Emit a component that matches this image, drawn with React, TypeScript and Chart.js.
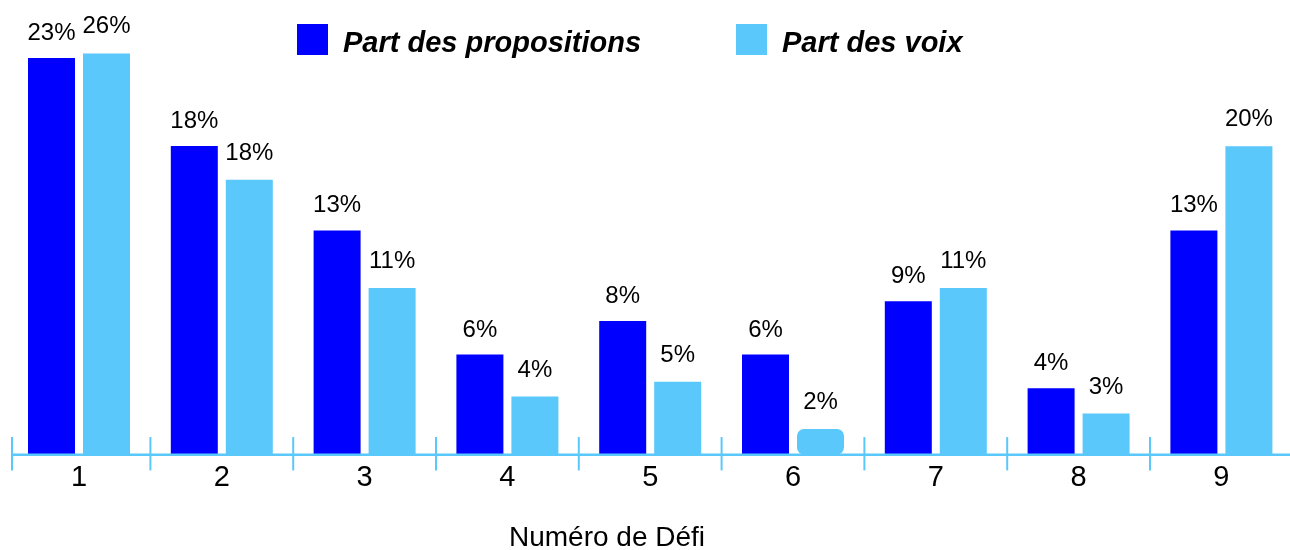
import React, { useEffect, useRef } from 'react';
import { Chart, registerables } from 'chart.js';

Chart.register(...registerables);

// ---- data ----
const categories = ['1', '2', '3', '4', '5', '6', '7', '8', '9'];
const propositions = [23.0, 17.9, 13.0, 5.8, 7.75, 5.8, 8.9, 3.85, 13.0];
const voix = [25.9, 17.75, 10.75, 3.75, 4.7, 1.65, 10.75, 2.65, 19.9];
const seriesNames = ['Part des propositions', 'Part des voix'];
const axisTitle = 'Numéro de Défi';

// ---- style ----
const DARK_BLUE = '#0000ff';
const LIGHT_BLUE = '#5ac8fa';
const FONT = "'Liberation Sans', Arial, Helvetica, sans-serif";
const CANVAS_W = 1300;
const CANVAS_H = 550;

const decorPlugin = {
  id: 'decor',
  afterDatasetsDraw(chart: any) {
    const ctx = chart.ctx as CanvasRenderingContext2D;
    const x = chart.scales.x;
    const area = chart.chartArea;
    const axisY = area.bottom + 0.2;
    ctx.save();

    // axis line
    const lineStart = x.left + 4.4;
    ctx.strokeStyle = LIGHT_BLUE;
    ctx.lineWidth = 2.6;
    ctx.beginPath();
    ctx.moveTo(lineStart, axisY);
    ctx.lineTo(x.right + 10, axisY);
    ctx.stroke();

    // tick marks at category boundaries
    const step = x.width / categories.length;
    const first = x.getPixelForValue(0) - step / 2;
    ctx.lineWidth = 2;
    for (let i = 0; i <= categories.length; i++) {
      const bx = Math.max(lineStart, first + i * step);
      ctx.beginPath();
      ctx.moveTo(bx, axisY - 17.7);
      ctx.lineTo(bx, axisY + 15.6);
      ctx.stroke();
    }

    // value labels
    ctx.fillStyle = '#000';
    ctx.font = `24px ${FONT}`;
    ctx.textAlign = 'center';
    ctx.textBaseline = 'alphabetic';
    const offsets = [18, 20];
    chart.data.datasets.forEach((ds: any, d: number) => {
      const meta = chart.getDatasetMeta(d);
      meta.data.forEach((el: any, i: number) => {
        const v = ds.data[i] as number;
        ctx.fillText(Math.round(v) + '%', el.x, el.y - offsets[d]);
      });
    });

    // legend
    ctx.textAlign = 'left';
    ctx.font = `italic bold 29px ${FONT}`;
    const legendItems = [
      { box: 297, text: 343 },
      { box: 736, text: 782 },
    ];
    chart.data.datasets.forEach((ds: any, d: number) => {
      const it = legendItems[d];
      ctx.fillStyle = ds.backgroundColor;
      ctx.fillRect(it.box, 24, 31, 31);
      ctx.fillStyle = '#000';
      ctx.fillText(ds.label, it.text, 52);
    });

    // axis title
    ctx.font = `28px ${FONT}`;
    ctx.textAlign = 'center';
    ctx.fillText(axisTitle, 607, 546);

    ctx.restore();
  },
};

export default function App() {
  const canvasRef = useRef<HTMLCanvasElement | null>(null);

  useEffect(() => {
    if (!canvasRef.current) return;
    const chart = new Chart(canvasRef.current, {
      type: 'bar',
      data: {
        labels: categories,
        datasets: [
          {
            label: seriesNames[0],
            data: propositions,
            backgroundColor: DARK_BLUE,
            yAxisID: 'y',
            categoryPercentage: 0.7703,
            barPercentage: 0.8545,
          },
          {
            label: seriesNames[1],
            data: voix,
            backgroundColor: LIGHT_BLUE,
            yAxisID: 'y1',
            categoryPercentage: 0.7703,
            barPercentage: 0.8545,
            borderRadius: (c: any) => (c.dataIndex === 5 ? 7 : 0),
            borderSkipped: (c: any) => (c.dataIndex === 5 ? false : 'start'),
          } as any,
        ],
      },
      options: {
        responsive: false,
        animation: false,
        devicePixelRatio: 1,
        layout: { padding: { left: 7.6, right: 7.2, top: 0, bottom: 47.8 } },
        plugins: {
          legend: { display: false },
          tooltip: { enabled: false },
        },
        scales: {
          x: {
            grid: { display: false, drawTicks: false },
            border: { display: false },
            ticks: {
              color: '#000',
              padding: 6.4,
              font: { family: FONT, size: 29 },
            },
          },
          y: { display: false, min: 0, max: 26.37 },
          y1: { display: false, min: 0, max: 29.35 },
        },
      },
      plugins: [decorPlugin],
    });
    return () => chart.destroy();
  }, []);

  return (
    <div
      style={{
        position: 'fixed',
        left: 0,
        top: 0,
        width: 1290,
        height: 550,
        overflow: 'hidden',
        background: '#fff',
      }}
    >
      <canvas
        ref={canvasRef}
        width={CANVAS_W}
        height={CANVAS_H}
        style={{ width: CANVAS_W, height: CANVAS_H, display: 'block' }}
      />
    </div>
  );
}
